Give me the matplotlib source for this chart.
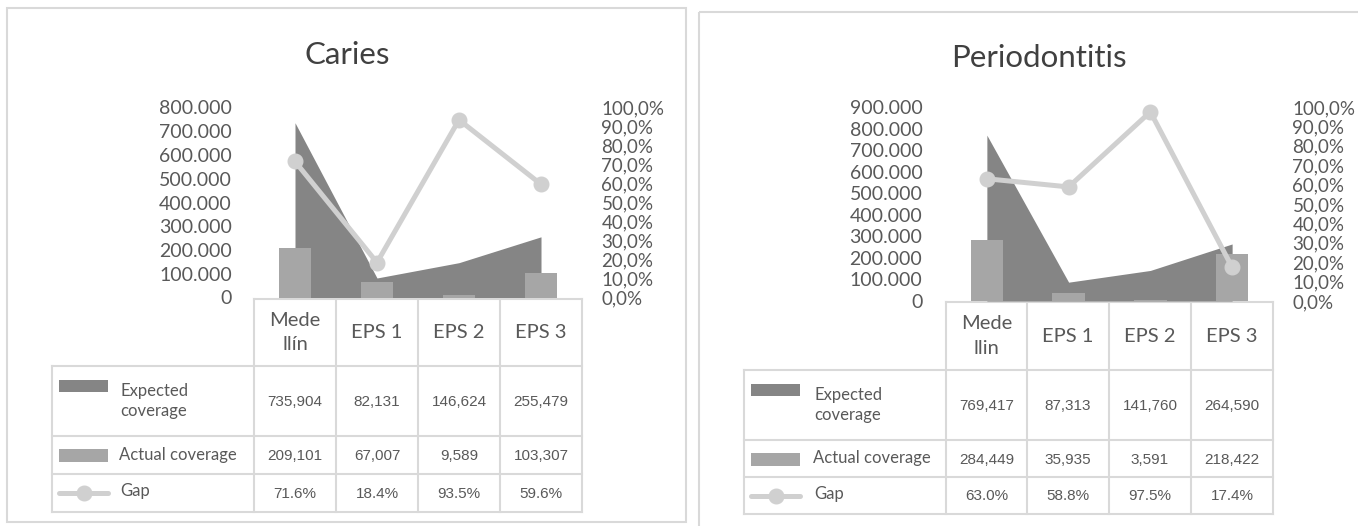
import matplotlib
matplotlib.use("Agg")
import matplotlib.pyplot as plt
from matplotlib.patches import Rectangle
from matplotlib.ticker import FuncFormatter, MultipleLocator

# data
series_names = ["Expected\ncoverage", "Actual coverage", "Gap"]

caries_cats = ["Mede\nllín", "EPS 1", "EPS 2", "EPS 3"]
caries_expected = [735904, 82131, 146624, 255479]
caries_actual = [209101, 67007, 9589, 103307]
caries_gap = [71.6, 18.4, 93.5, 59.6]

perio_cats = ["Mede\nllin", "EPS 1", "EPS 2", "EPS 3"]
perio_expected = [769417, 87313, 141760, 264590]
perio_actual = [284449, 35935, 3591, 218422]
perio_gap = [63.0, 58.8, 97.5, 17.4]

W, H = 1358, 526
C_AREA = "#858585"
C_BAR = "#a6a6a6"
C_LINE = "#d0d0d0"
C_TXT = "#595959"
C_GRID = "#d9d9d9"
FONT = "Lato"
NUMFONT = "Liberation Sans"

fig = plt.figure(figsize=(W / 100, H / 100), dpi=100)
ov = fig.add_axes([0, 0, 1, 1])
ov.set_xlim(0, W)
ov.set_ylim(H, 0)
ov.axis("off")


def rect(x0, y0, x1, y1):
    return [x0 / W, 1 - y1 / H, (x1 - x0) / W, (y1 - y0) / H]


def panel(title, cats, expected, actual, gap, ymax, box, title_xy,
          cols, y_top, y_zero, rows, lab_left, key_x, lab_x, lpad, rpad):
    # frame and title
    bx0, by0, bx1, by1 = box
    ov.add_patch(Rectangle((bx0, by0), bx1 - bx0, by1 - by0, fill=False,
                           ec=C_GRID, lw=1.5))
    ov.text(title_xy[0], title_xy[1], title, ha="center", va="center",
            fontsize=22.5, color="#404040", family=FONT)

    # chart
    ax = fig.add_axes(rect(cols[0], y_top, cols[-1], y_zero))
    ax.set_facecolor("none")
    x = list(range(len(cats)))
    ax.fill_between(x, expected, 0, color=C_AREA, lw=0, zorder=1)
    ax.bar(x, actual, width=0.4, color=C_BAR, zorder=2)
    ax.set_xlim(-0.5, len(cats) - 0.5)
    ax.set_ylim(0, ymax)
    ax.yaxis.set_major_locator(MultipleLocator(100000))
    ax.yaxis.set_major_formatter(FuncFormatter(
        lambda v, p: f"{int(round(v)):,}".replace(",", ".")))
    ax.set_xticks([])
    ax.tick_params(axis="y", length=0, pad=lpad, labelsize=14,
                   labelcolor=C_TXT)
    for lab in ax.get_yticklabels():
        lab.set_family(FONT)
    for s in ax.spines.values():
        s.set_visible(False)

    ax2 = ax.twinx()
    ax2.plot(x, gap, color=C_LINE, lw=3.6, marker="o", ms=10.5,
             solid_capstyle="round", clip_on=False)
    ax2.set_ylim(0, 100)
    ax2.yaxis.set_major_locator(MultipleLocator(10))
    ax2.yaxis.set_major_formatter(FuncFormatter(
        lambda v, p: f"{v:.1f}%".replace(".", ",")))
    ax2.tick_params(axis="y", length=0, pad=rpad, labelsize=13.5,
                    labelcolor=C_TXT)
    for lab in ax2.get_yticklabels():
        lab.set_family(FONT)
    for s in ax2.spines.values():
        s.set_visible(False)

    # data table
    r0, r1, r2, r3, r4 = rows
    ov.plot([cols[0], cols[-1]], [r0, r0], color=C_GRID, lw=1.5)
    for yy in (r1, r2, r3, r4):
        ov.plot([lab_left, cols[-1]], [yy, yy], color=C_GRID, lw=1.5)
    for xx in cols:
        ov.plot([xx, xx], [r0, r4], color=C_GRID, lw=1.5)
    ov.plot([lab_left, lab_left], [r1, r4], color=C_GRID, lw=1.5)

    centers = [(cols[i] + cols[i + 1]) / 2 for i in range(len(cats))]
    for cx, c in zip(centers, cats):
        ov.text(cx, (r0 + r1) / 2, c, ha="center", va="center", fontsize=14.5,
                color=C_TXT, family=FONT, linespacing=1.55)

    row_mid = [(r1 + r2) / 2, (r2 + r3) / 2, (r3 + r4) / 2]
    values = [[f"{v:,}" for v in expected], [f"{v:,}" for v in actual],
              [f"{v:.1f}%" for v in gap]]
    for ym, vals in zip(row_mid, values):
        for cx, v in zip(centers, vals):
            ov.text(cx, ym + 1, v, ha="center", va="center", fontsize=11,
                    color=C_TXT, family=NUMFONT)

    # legend keys
    kx0, kx1 = key_x
    ov.add_patch(Rectangle((kx0, r1 + 14), kx1 - kx0, 12, color=C_AREA, lw=0))
    ov.add_patch(Rectangle((kx0, row_mid[1] - 6), kx1 - kx0, 13, color=C_BAR,
                           lw=0))
    ov.plot([kx0, kx1], [row_mid[2], row_mid[2]], color=C_LINE, lw=3.6,
            solid_capstyle="round")
    ov.plot([(kx0 + kx1) / 2], [row_mid[2]], "o", color=C_LINE, ms=10.5)
    ov.text(lab_x, row_mid[0], series_names[0], ha="left", va="center",
            fontsize=12, color=C_TXT, family=FONT, linespacing=1.35)
    ov.text(lab_x - 1, row_mid[1], series_names[1], ha="left", va="center",
            fontsize=12, color=C_TXT, family=FONT)
    ov.text(lab_x, row_mid[2] - 2, series_names[2], ha="left", va="center",
            fontsize=12, color=C_TXT, family=FONT)


panel("Caries", caries_cats, caries_expected, caries_actual, caries_gap,
      800000, (7, 8, 686, 522), (347, 55),
      [254, 336, 418, 500, 582], 107.5, 297.5,
      [299, 366, 436, 474, 512], 52, (59, 108), 120, 16, 14)

panel("Periodontitis", perio_cats, perio_expected, perio_actual, perio_gap,
      900000, (699, 12, 1370, 530), (1039, 58),
      [946, 1027, 1109, 1191, 1273], 107, 301,
      [302, 370, 440, 477, 514], 744, (751, 800), 814, 17, 14)

fig.savefig("out.png", dpi=100)
